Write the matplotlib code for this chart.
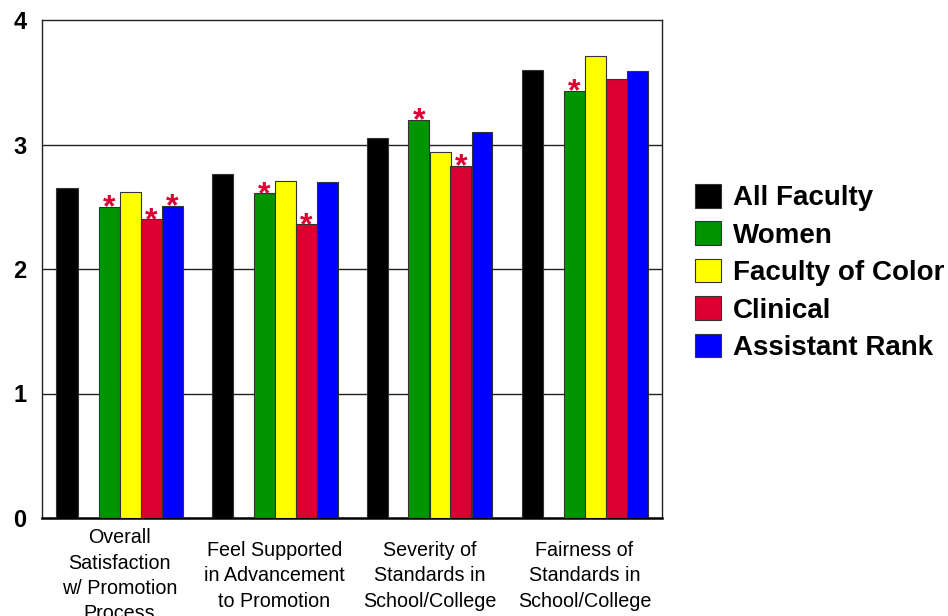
import matplotlib
matplotlib.use("Agg")
import matplotlib.pyplot as plt
import numpy as np

categories = ["Overall\nSatisfaction\nw/ Promotion\nProcess",
              "Feel Supported\nin Advancement\nto Promotion",
              "Severity of\nStandards in\nSchool/College",
              "Fairness of\nStandards in\nSchool/College"]
series_names = ["All Faculty", "Women", "Faculty of Color", "Clinical", "Assistant Rank"]
all_faculty = [2.65, 2.76, 3.05, 3.60]
women = [2.50, 2.61, 3.20, 3.43]
faculty_of_color = [2.62, 2.71, 2.94, 3.71]
clinical = [2.40, 2.36, 2.83, 3.53]
assistant_rank = [2.51, 2.70, 3.10, 3.59]
# significance markers (True = asterisk)
sig_all = [False, False, False, False]
sig_women = [True, True, True, True]
sig_color = [False, False, False, False]
sig_clinical = [True, True, True, False]
sig_assistant = [True, False, False, False]
y_ticks = [0, 1, 2, 3, 4]

colors = ["#000000", "#009400", "#FFFF00", "#DC0030", "#0000FF"]
values = [all_faculty, women, faculty_of_color, clinical, assistant_rank]
sigs = [sig_all, sig_women, sig_color, sig_clinical, sig_assistant]

plt.rcParams['font.family'] = ['Liberation Sans', 'DejaVu Sans']

fig = plt.figure(figsize=(9.48, 6.16), dpi=100)
ax = fig.add_axes([42/948, 98/616, 620/948, 498/616])

w = 21/155
offsets = [-2.5*w, -0.5*w, 0.5*w, 1.5*w, 2.5*w]
x = np.arange(len(categories))

handles = []
for vals, col, off, sg, name in zip(values, colors, offsets, sigs, series_names):
    b = ax.bar(x + off, vals, width=w, color=col, edgecolor="#333333", linewidth=0.8,
               label=name, zorder=3)
    handles.append(b)
    for xi, v, s in zip(x + off, vals, sg):
        if s:
            ax.annotate("*", xy=(xi, v), xytext=(0, -7.0), textcoords="offset points",
                        ha="center", va="baseline", color="#DC0030",
                        fontsize=23, fontweight="bold", zorder=4)

ax.set_xlim(-0.5, 3.5)
ax.set_ylim(0, 4)
ax.set_yticks(y_ticks)
ax.set_yticklabels([str(t) for t in y_ticks], fontsize=17, fontweight="bold")
ax.tick_params(axis="y", length=0, pad=11)
ax.tick_params(axis="x", length=0)
ax.set_xticks([])
for yv in [1, 2, 3]:
    ax.axhline(yv, color="#222222", linewidth=1.0, zorder=1)
for sp in ["top", "right", "left"]:
    ax.spines[sp].set_color("#222222")
    ax.spines[sp].set_linewidth(1.0)
ax.spines["bottom"].set_linewidth(1.8)
ax.spines["bottom"].set_color("#000000")

for xi, lab in zip(x, categories):
    ax.text(xi, -0.465, lab, ha="center", va="center", fontsize=14.2,
            linespacing=1.42, transform=ax.transData, clip_on=False)

leg = fig.legend(handles=handles, labels=series_names, loc="upper left",
                 bbox_to_anchor=(684/948, 1 - 173/616), frameon=False,
                 prop={"size": 20, "weight": "bold"}, handlelength=0.93,
                 handleheight=0.93, handletextpad=0.42, labelspacing=0.36,
                 borderaxespad=0)

fig.savefig("out.png", dpi=100)
